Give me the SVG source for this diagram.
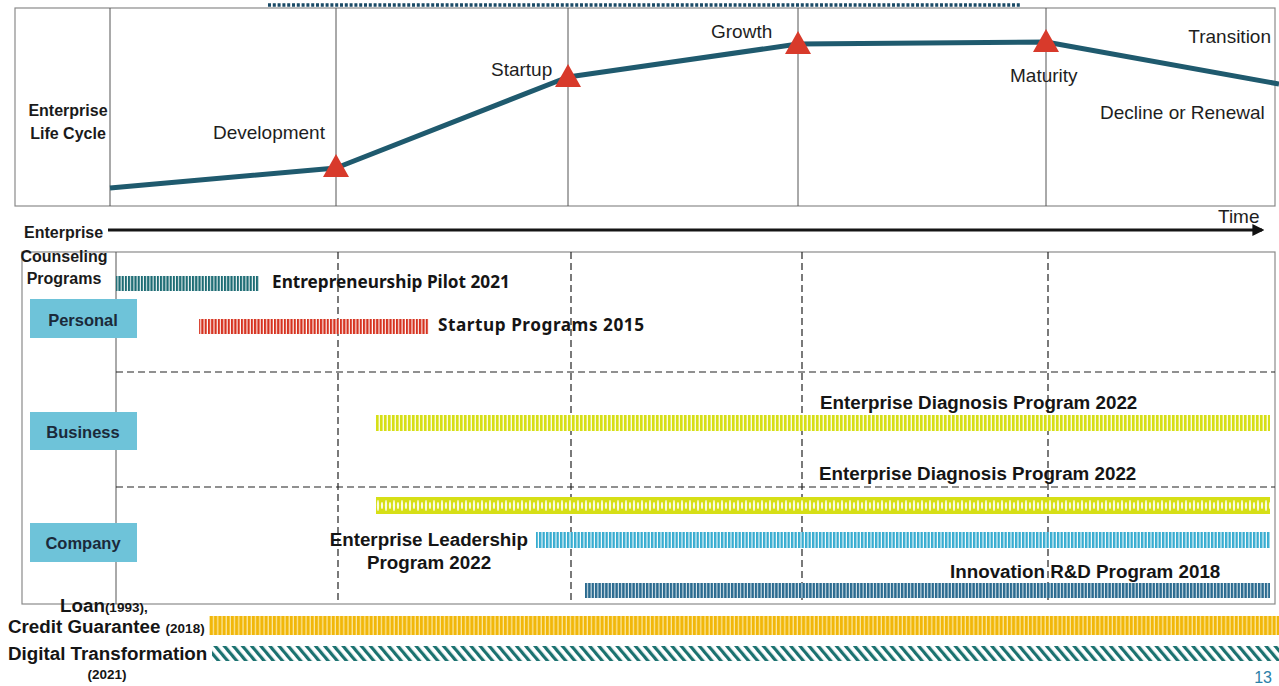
<svg xmlns="http://www.w3.org/2000/svg" width="1279" height="686" viewBox="0 0 1279 686">
  <style>
    .frame { fill: none; stroke: #8a8a8a; stroke-width: 1.2; }
    .grid { stroke: #555; stroke-width: 1; }
    .dash { stroke: #222; stroke-width: 1.2; stroke-dasharray: 7 4; }
    .stage { font-family: "Liberation Sans", Arial, sans-serif; font-size: 19px; fill: #1e1e1e; }
    .head { font-family: "Liberation Sans", Arial, sans-serif; font-size: 16px; font-weight: bold; fill: #1a1a1a; }
    .lbl { font-family: "Liberation Sans", Arial, sans-serif; font-size: 18.8px; font-weight: bold; fill: #151515; }
    .lbl2 { font-family: "Noto Sans", "Liberation Sans", sans-serif; font-size: 17.2px; font-weight: bold; fill: #151515; }
    .small { font-size: 13.5px; }
    .box { fill: #6ec3d9; }
    .boxtxt { font-family: "Liberation Sans", Arial, sans-serif; font-size: 16.5px; font-weight: bold; fill: #1b2a3a; text-anchor: middle; }
    .tri { fill: #d83a2b; }
  </style>
  <defs>
    <pattern id="pTeal" width="3.2" height="20" patternUnits="userSpaceOnUse">
      <rect width="3.2" height="20" fill="#ffffff"/>
      <rect width="2.2" height="20" fill="#1d6c74"/>
    </pattern>
    <pattern id="pRed" width="3.3" height="20" patternUnits="userSpaceOnUse">
      <rect width="3.3" height="20" fill="#ffffff"/>
      <rect width="2.2" height="20" fill="#d6321f"/>
    </pattern>
    <pattern id="pLime" width="4" height="20" patternUnits="userSpaceOnUse">
      <rect width="4" height="20" fill="#fbfbe0"/>
      <rect width="2.6" height="20" fill="#d6df16"/>
    </pattern>
    <pattern id="pLimeWeave" width="8" height="17" patternUnits="userSpaceOnUse" x="376" y="497">
      <rect width="8" height="17" fill="#d6df16"/>
      <ellipse cx="2" cy="8.5" rx="1.1" ry="5.5" fill="#fbfbe0"/>
      <ellipse cx="6" cy="8.5" rx="1.1" ry="3.5" fill="#fbfbe0"/>
    </pattern>
    <pattern id="pSky" width="3.5" height="20" patternUnits="userSpaceOnUse">
      <rect width="3.5" height="20" fill="#ffffff"/>
      <rect width="2.4" height="20" fill="#37acd0"/>
    </pattern>
    <pattern id="pSteel" width="3.4" height="20" patternUnits="userSpaceOnUse">
      <rect width="3.4" height="20" fill="#e8f0f4"/>
      <rect width="2.4" height="20" fill="#2a6a8f"/>
    </pattern>
    <pattern id="pGold" width="4.2" height="22" patternUnits="userSpaceOnUse">
      <rect width="4.2" height="22" fill="#fbe9a6"/>
      <rect width="3" height="22" fill="#f1b70a"/>
    </pattern>
    <pattern id="pDiag" width="7" height="7" patternUnits="userSpaceOnUse" patternTransform="rotate(-40)">
      <rect width="7" height="7" fill="#ffffff"/>
      <rect width="3.2" height="7" fill="#1b7270"/>
    </pattern>
    <marker id="arrow" viewBox="0 0 10 10" refX="8" refY="5" markerWidth="4" markerHeight="4" orient="auto">
      <path d="M0,0 L10,5 L0,10 z" fill="#111"/>
    </marker>
  </defs>

  <!-- life-cycle panel -->
  <g id="lifecycle-panel">
    <rect class="frame" x="15" y="8" width="1260" height="198"/>
    <line x1="268" y1="5" x2="1020" y2="5" stroke="#1a4a66" stroke-width="3.5" stroke-dasharray="3 1.8"/>
    <line class="grid" x1="110" y1="8" x2="110" y2="206"/>
    <line class="grid" x1="336" y1="8" x2="336" y2="206"/>
    <line class="grid" x1="568" y1="8" x2="568" y2="206"/>
    <line class="grid" x1="798" y1="8" x2="798" y2="206"/>
    <line class="grid" x1="1046" y1="8" x2="1046" y2="206"/>
    <text class="head" x="68" y="116" text-anchor="middle">Enterprise</text>
    <text class="head" x="68" y="139" text-anchor="middle">Life Cycle</text>
  </g>

  <!-- connectors: life-cycle curve and time axis -->
  <g id="connectors">
    <polyline points="110,188 336,168 568,77 798,44 1046,42 1279,84" fill="none" stroke="#1f5a6e" stroke-width="5" stroke-linejoin="round"/>
    <line x1="108" y1="230" x2="1262" y2="230" stroke="#151515" stroke-width="3" marker-end="url(#arrow)"/>
  </g>

  <g id="stage-development">
    <polygon class="tri" points="336,154 323,177 349,177"/>
    <text class="stage" x="213" y="139">Development</text>
  </g>
  <g id="stage-startup">
    <polygon class="tri" points="568,64 555,87 581,87"/>
    <text class="stage" x="491" y="76">Startup</text>
  </g>
  <g id="stage-growth">
    <polygon class="tri" points="798,31 785,54 811,54"/>
    <text class="stage" x="711" y="38">Growth</text>
  </g>
  <g id="stage-maturity">
    <polygon class="tri" points="1046,29 1033,52 1059,52"/>
    <text class="stage" x="1010" y="82">Maturity</text>
  </g>
  <g id="stage-transition">
    <text class="stage" x="1271" y="43" text-anchor="end">Transition</text>
    <text class="stage" x="1100" y="119">Decline or Renewal</text>
  </g>

  <g id="time-axis-labels">
    <text class="stage" x="1218" y="223">Time</text>
    <text class="head" x="24" y="238">Enterprise</text>
  </g>

  <!-- counseling programs panel -->
  <g id="programs-panel">
    <rect class="frame" x="22" y="252" width="1253" height="352"/>
    <line class="grid" x1="116" y1="252" x2="116" y2="604"/>
    <line class="dash" x1="338" y1="252" x2="338" y2="604"/>
    <line class="dash" x1="571" y1="252" x2="571" y2="604"/>
    <line class="dash" x1="802" y1="252" x2="802" y2="604"/>
    <line class="dash" x1="1048" y1="252" x2="1048" y2="604"/>
    <line class="dash" x1="116" y1="372" x2="1275" y2="372"/>
    <line class="dash" x1="116" y1="487" x2="1275" y2="487"/>
    <text class="head" x="64" y="262" text-anchor="middle">Counseling</text>
    <text class="head" x="64" y="284" text-anchor="middle">Programs</text>
  </g>

  <g id="box-personal">
    <rect class="box" x="30" y="299" width="107" height="39"/>
    <text class="boxtxt" x="83" y="326">Personal</text>
  </g>
  <g id="box-business">
    <rect class="box" x="30" y="412" width="107" height="38"/>
    <text class="boxtxt" x="83" y="438">Business</text>
  </g>
  <g id="box-company">
    <rect class="box" x="30" y="523" width="107" height="39"/>
    <text class="boxtxt" x="83" y="549">Company</text>
  </g>

  <g id="bar-entrepreneurship-pilot">
    <rect x="116" y="276" width="143" height="15" fill="url(#pTeal)"/>
    <text class="lbl2" x="272" y="288">Entrepreneurship Pilot 2021</text>
  </g>
  <g id="bar-startup-programs">
    <rect x="199" y="319" width="230" height="15" fill="url(#pRed)"/>
    <text class="lbl2" x="438" y="331" textLength="206">Startup Programs 2015</text>
  </g>
  <g id="bar-diagnosis-business">
    <rect x="376" y="415" width="894" height="16" fill="url(#pLime)"/>
    <text class="lbl" x="820" y="409">Enterprise Diagnosis Program 2022</text>
  </g>
  <g id="bar-diagnosis-company">
    <rect x="376" y="497" width="894" height="17" fill="url(#pLimeWeave)"/>
    <text class="lbl" x="819" y="480">Enterprise Diagnosis Program 2022</text>
  </g>
  <g id="bar-leadership">
    <rect x="536" y="532" width="734" height="16" fill="url(#pSky)"/>
    <text class="lbl" x="528" y="546" text-anchor="end">Enterprise Leadership</text>
    <text class="lbl" x="429" y="569" text-anchor="middle">Program 2022</text>
  </g>
  <g id="bar-innovation">
    <rect x="585" y="583" width="685" height="15" fill="url(#pSteel)"/>
    <text class="lbl" x="950" y="578">Innovation R&amp;D Program 2018</text>
  </g>

  <g id="bar-loan-guarantee">
    <text class="lbl" x="60" y="612">Loan<tspan class="small">(1993),</tspan></text>
    <text class="lbl" x="8" y="633">Credit Guarantee <tspan class="small">(2018)</tspan></text>
    <rect x="209" y="616" width="1070" height="19" fill="url(#pGold)"/>
  </g>
  <g id="bar-digital">
    <text class="lbl" x="8" y="660">Digital Transformation</text>
    <text class="lbl small" x="107" y="679" text-anchor="middle">(2021)</text>
    <rect x="212" y="646" width="1067" height="15" fill="url(#pDiag)"/>
  </g>

  <text x="1272" y="683" text-anchor="end" font-family="Liberation Sans, Arial, sans-serif" font-size="16" fill="#2a80a8">13</text>
</svg>
